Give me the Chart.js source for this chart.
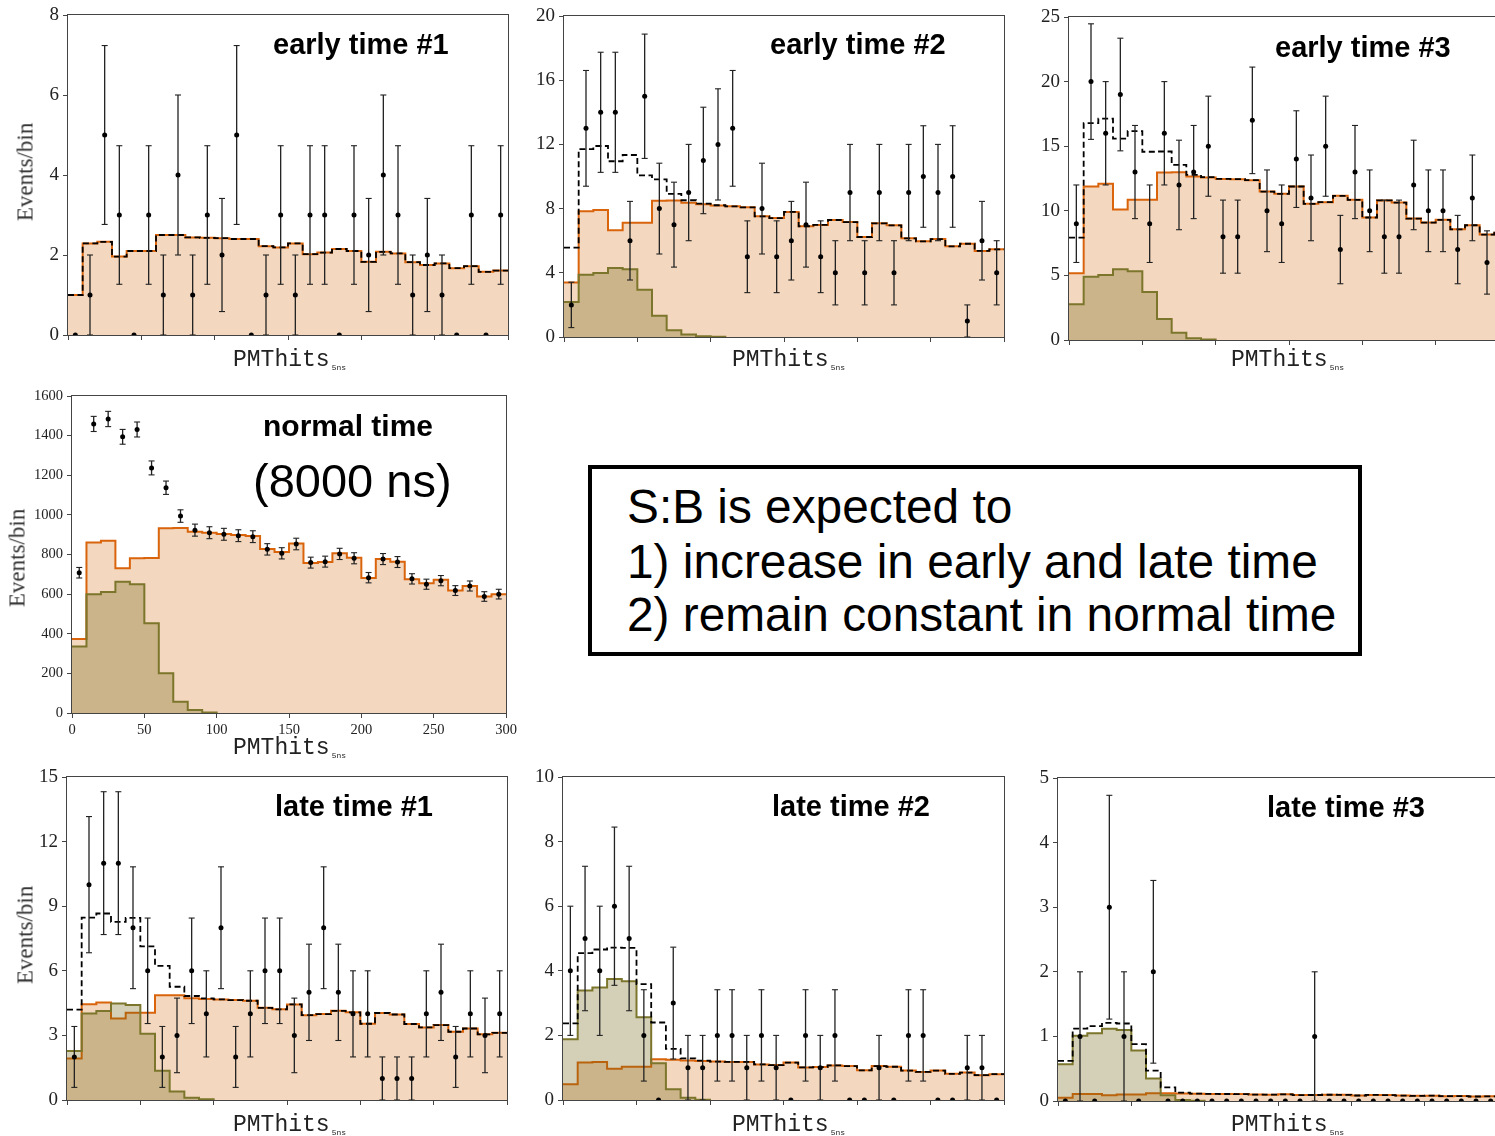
<!DOCTYPE html>
<html>
<head>
<meta charset="utf-8">
<script src="https://cdn.jsdelivr.net/npm/chart.js@4.4.1/dist/chart.umd.min.js"></script>
<style>
  html, body { margin: 0; padding: 0; width: 1495px; height: 1136px; overflow: hidden; background: #fff; }
  body { position: relative; }
  canvas { position: absolute; }
  .txt { position: absolute; white-space: nowrap; line-height: 1; color: #000; z-index: 5; }
  .title { font-family: "Liberation Sans", Arial, sans-serif; font-weight: bold; }
  .plain { font-family: "Liberation Sans", Arial, sans-serif; }
  .xl { font-family: "Liberation Mono", "DejaVu Sans Mono", monospace; font-size: 23px; color: #222; }
  .xl .s { font-size: 8px; position: relative; top: 4px; margin-left: 2px; }
  .yl { position: absolute; white-space: nowrap; line-height: 1; z-index: 5;
        font-family: "Liberation Serif", serif; font-size: 23px; color: #333;
        transform: translate(-50%, -50%) rotate(-90deg); }
  #note { position: absolute; left: 588px; top: 465px; width: 766px; height: 183px;
          border: 4px solid #000; z-index: 4; }
</style>
</head>
<body>
<div id="note"></div>
<script>
// Histogram binning on PMThits (5 ns window): 30 bins of width 10 from 0 to 300
const BIN_EDGES = [0,10,20,30,40,50,60,70,80,90,100,110,120,130,140,150,160,170,180,190,200,210,220,230,240,250,260,270,280,290,300];
const BIN_CENTERS = [5,15,25,35,45,55,65,75,85,95,105,115,125,135,145,155,165,175,185,195,205,215,225,235,245,255,265,275,285,295];
const X_TICKS = [0,50,100,150,200,250,300];

// early time #1
const E1_BKG  = [1.00,2.29,2.33,1.96,2.10,2.10,2.50,2.50,2.44,2.43,2.42,2.40,2.40,2.22,2.19,2.29,2.02,2.06,2.15,2.10,1.83,2.08,2.04,1.82,1.75,1.79,1.67,1.72,1.58,1.61];
const E1_SIG  = [0,0,0,0,0,0,0,0,0,0,0,0,0,0,0,0,0,0,0,0,0,0,0,0,0,0,0,0,0,0];
const E1_DATA = [0,1,5,3,0,3,1,4,1,3,2,5,0,1,3,1,3,3,0,3,2,4,3,1,2,1,0,3,0,3];

// early time #2
const E2_BKG  = [3.39,7.83,7.91,6.65,7.12,7.12,8.49,8.50,8.37,8.27,8.20,8.14,8.08,7.52,7.41,7.79,6.90,6.98,7.29,7.16,6.23,7.08,6.96,6.15,5.96,6.10,5.65,5.81,5.36,5.46];
const E2_SIG  = [2.18,3.88,3.99,4.30,4.22,2.95,1.33,0.42,0.15,0.04,0.01,0,0,0,0,0,0,0,0,0,0,0,0,0,0,0,0,0,0,0];
const E2_DATA = [2,13,14,14,6,15,8,7,9,11,12,13,5,8,5,6,7,5,4,9,4,9,4,9,10,9,10,1,6,4];

// early time #3
const E3_BKG  = [5.17,11.88,12.09,10.10,10.85,10.85,12.96,12.99,12.65,12.58,12.47,12.45,12.37,11.49,11.31,11.88,10.54,10.67,11.16,10.85,9.48,10.80,10.64,9.40,9.09,9.30,8.57,8.88,8.16,8.30];
const E3_SIG  = [2.76,4.90,5.04,5.48,5.32,3.72,1.63,0.57,0.13,0.03,0,0,0,0,0,0,0,0,0,0,0,0,0,0,0,0,0,0,0,0];
const E3_DATA = [9,20,16,19,13,9,16,12,13,15,8,8,17,10,9,14,11,15,7,13,10,8,8,12,10,10,7,11,6,8];

// normal time (8000 ns)
const N_BKG  = [373,860,870,730,781,782,932,934,915,910,903,898,893,828,813,855,757,762,806,784,682,777,764,675,655,673,618,641,588,600];
const N_SIG  = [336,599,611,663,650,453,201,57,15,3,0,0,0,0,0,0,0,0,0,0,0,0,0,0,0,0,0,0,0,0];
const N_DATA = [708,1459,1484,1394,1431,1237,1137,994,923,910,902,895,890,826,806,853,759,764,803,781,683,777,762,677,650,668,618,641,588,600];

// late time #1
const L1_BKG  = [1.93,4.45,4.53,3.79,4.05,4.05,4.87,4.87,4.72,4.69,4.67,4.64,4.61,4.28,4.21,4.44,3.94,3.99,4.14,4.07,3.54,4.04,3.97,3.53,3.37,3.48,3.17,3.32,3.05,3.12];
const L1_SIG  = [2.27,4.02,4.13,4.48,4.41,3.08,1.36,0.39,0.11,0.03,0,0,0,0,0,0,0,0,0,0,0,0,0,0,0,0,0,0,0,0];
const L1_DATA = [2,10,11,11,8,6,2,3,6,4,8,2,4,6,6,3,5,8,5,4,4,1,1,1,4,5,2,4,3,4];

// late time #2
const L2_BKG  = [0.49,1.16,1.18,0.97,1.03,1.03,1.26,1.25,1.22,1.21,1.19,1.18,1.18,1.10,1.08,1.16,1.01,1.02,1.07,1.05,0.92,1.05,1.03,0.91,0.87,0.91,0.81,0.85,0.77,0.80];
const L2_SIG  = [1.88,3.39,3.48,3.75,3.68,2.56,1.14,0.33,0.07,0.01,0,0,0,0,0,0,0,0,0,0,0,0,0,0,0,0,0,0,0,0];
const L2_DATA = [4,5,4,6,5,2,0,3,1,1,2,2,1,2,1,0,2,1,2,0,0,1,0,2,2,0,0,1,1,0];

// late time #3
const L3_BKG  = [0.050,0.110,0.110,0.090,0.100,0.100,0.120,0.120,0.115,0.112,0.110,0.108,0.107,0.100,0.098,0.104,0.092,0.093,0.097,0.095,0.085,0.094,0.092,0.084,0.080,0.083,0.074,0.077,0.070,0.072];
const L3_SIG  = [0.57,1.01,1.05,1.12,1.10,0.78,0.35,0.09,0.015,0.003,0,0,0,0,0,0,0,0,0,0,0,0,0,0,0,0,0,0,0,0];
const L3_DATA = [0,1,0,3,1,0,2,0,0,0,0,0,0,0,0,0,0,1,0,0,0,0,0,0,0,0,0,0,0,0];

const ORANGE_LINE = 'rgb(217,100,12)';
const ORANGE_FILL = 'rgba(210,100,5,0.26)';
const OLIVE_LINE  = 'rgb(124,118,44)';
const OLIVE_FILL  = 'rgba(112,98,15,0.30)';
const SERIF = "'Liberation Serif', 'DejaVu Serif', serif";

// step outline: one point per left bin edge, last value repeated at the right edge
function steps(vals) {
  return BIN_EDGES.map((x, i) => ({ x, y: vals[Math.min(i, vals.length - 1)] }));
}
function sumBins(a, b) { return a.map((v, i) => v + b[i]); }

// Poisson error bars: vertical segments split by gaps, plus caps
function errSegments(counts) {
  const out = [];
  counts.forEach((n, i) => {
    if (n > 0) {
      const e = Math.sqrt(n), x = BIN_CENTERS[i];
      out.push({ x, y: n - e }, { x, y: n + e }, { x, y: null });
    }
  });
  return out;
}
function errCaps(counts) {
  const out = [];
  counts.forEach((n, i) => {
    if (n > 0) {
      const e = Math.sqrt(n), x = BIN_CENTERS[i];
      out.push({ x, y: n - e }, { x, y: n + e });
    }
  });
  return out;
}

// hide the outline where a histogram sits flat on zero
const hideFlatZero = ctx => (ctx.p0.parsed.y === 0 && ctx.p1.parsed.y === 0) ? 'rgba(0,0,0,0)' : undefined;

const framePlugin = {
  id: 'frame',
  afterDatasetsDraw(chart) {
    const { ctx, chartArea: a } = chart;
    ctx.save();
    ctx.strokeStyle = '#444';
    ctx.lineWidth = 1;
    ctx.strokeRect(a.left - 0.5, a.top - 0.5, a.right - a.left + 1, a.bottom - a.top + 1);
    ctx.restore();
  }
};

const PAD = { l: 62, t: 16, r: 26, b: 40 };

function panel(spec) {
  const w = spec.rect.r - spec.rect.l, h = spec.rect.b - spec.rect.t;
  const cv = document.createElement('canvas');
  cv.width = w + PAD.l + PAD.r;
  cv.height = h + PAD.t + PAD.b;
  cv.style.left = (spec.rect.l - PAD.l) + 'px';
  cv.style.top = (spec.rect.t - PAD.t) + 'px';
  cv.style.width = cv.width + 'px';
  cv.style.height = cv.height + 'px';
  document.body.appendChild(cv);

  const clip = { left: 6, top: 6, right: 6, bottom: 0 };
  const datasets = [
    { type: 'line', data: spec.data.map((n, i) => ({ x: BIN_CENTERS[i], y: n })), showLine: false,
      pointStyle: 'circle', pointRadius: 2.5, pointBackgroundColor: '#000', pointBorderWidth: 0,
      order: 0, clip },
    { type: 'line', data: errCaps(spec.data), showLine: false, pointStyle: 'line', pointRadius: 3,
      pointBorderColor: '#222', pointBorderWidth: 1.1, order: 0, clip },
    { type: 'line', data: errSegments(spec.data), spanGaps: false, borderColor: '#222', borderWidth: 1.3,
      pointRadius: 0, order: 0, clip },
    { type: 'line', data: steps(spec.sig), stepped: true, borderColor: OLIVE_LINE, borderWidth: 2,
      backgroundColor: OLIVE_FILL, fill: 'origin', pointRadius: 0, order: 2,
      segment: { borderColor: hideFlatZero } },
    { type: 'line', data: steps(spec.bkg), stepped: true, borderColor: ORANGE_LINE, borderWidth: 2,
      backgroundColor: ORANGE_FILL, fill: 'origin', pointRadius: 0, order: 3 }
  ];
  if (spec.total) {
    datasets.push({ type: 'line', data: steps(sumBins(spec.bkg, spec.sig)), stepped: true,
      borderColor: '#000', borderWidth: 1.8, borderDash: [6, 3.5], fill: false, pointRadius: 0, order: 1 });
  }

  new Chart(cv, {
    type: 'line',
    data: { datasets },
    options: {
      responsive: false, animation: false, devicePixelRatio: 1, events: [],
      layout: { padding: { left: 0, top: PAD.t, right: PAD.r, bottom: 0 } },
      plugins: { legend: { display: false }, tooltip: { enabled: false } },
      scales: {
        x: {
          type: 'linear', min: 0, max: 300, offset: false,
          afterBuildTicks: s => { s.ticks = X_TICKS.map(v => ({ value: v })); },
          ticks: { display: spec.xLabels, autoSkip: false, maxRotation: 0, padding: 3,
                   color: '#222', font: { family: SERIF, size: 14.5 }, callback: v => String(v) },
          grid: { display: true, drawOnChartArea: false, drawTicks: true, tickLength: 5, color: '#444', lineWidth: 1 },
          border: { display: false },
          afterFit: s => { s.height = PAD.b; }
        },
        y: {
          type: 'linear', min: 0, max: spec.ymax,
          ticks: { stepSize: spec.ystep, padding: 4, color: '#222', font: { family: SERIF, size: spec.tickSize },
                   callback: v => String(v) },
          grid: { display: true, drawOnChartArea: false, drawTicks: true, tickLength: 5, color: '#444', lineWidth: 1 },
          border: { display: false },
          afterFit: s => { s.width = PAD.l; }
        }
      }
    },
    plugins: [framePlugin]
  });
}

// ---- text helpers (baseline-positioned) ----
function addText(html, cls, left, baseline, size, ascent) {
  const d = document.createElement('div');
  d.className = 'txt ' + cls;
  d.style.fontSize = size + 'px';
  d.style.left = left + 'px';
  d.style.top = (baseline - ascent * size) + 'px';
  d.innerHTML = html;
  document.body.appendChild(d);
}
function title(text, left, baseline, size, bold) {
  addText(text, bold ? 'title' : 'plain', left, baseline, size, 0.8465);
}
function xLabel(left, baseline) {
  addText('PMThits<span class="s">5ns</span>', 'xl', left, baseline, 23, 0.7665);
}
function yLabel(cx, cy) {
  const d = document.createElement('div');
  d.className = 'yl';
  d.style.left = cx + 'px';
  d.style.top = cy + 'px';
  d.textContent = 'Events/bin';
  document.body.appendChild(d);
}

panel({ rect: { l: 68, t: 15, r: 508, b: 335 }, bkg: E1_BKG, sig: E1_SIG, data: E1_DATA, total: true,
        ymax: 8, ystep: 2, tickSize: 19, xLabels: false });
panel({ rect: { l: 564, t: 16, r: 1004, b: 337 }, bkg: E2_BKG, sig: E2_SIG, data: E2_DATA, total: true,
        ymax: 20, ystep: 4, tickSize: 19, xLabels: false });
panel({ rect: { l: 1069, t: 17, r: 1509, b: 340 }, bkg: E3_BKG, sig: E3_SIG, data: E3_DATA, total: true,
        ymax: 25, ystep: 5, tickSize: 19, xLabels: false });
panel({ rect: { l: 72, t: 396, r: 506, b: 713 }, bkg: N_BKG, sig: N_SIG, data: N_DATA, total: false,
        ymax: 1600, ystep: 200, tickSize: 14.5, xLabels: true });
panel({ rect: { l: 67, t: 777, r: 507, b: 1100 }, bkg: L1_BKG, sig: L1_SIG, data: L1_DATA, total: true,
        ymax: 15, ystep: 3, tickSize: 19, xLabels: false });
panel({ rect: { l: 563, t: 777, r: 1004, b: 1100 }, bkg: L2_BKG, sig: L2_SIG, data: L2_DATA, total: true,
        ymax: 10, ystep: 2, tickSize: 19, xLabels: false });
panel({ rect: { l: 1058, t: 778, r: 1498, b: 1101 }, bkg: L3_BKG, sig: L3_SIG, data: L3_DATA, total: true,
        ymax: 5, ystep: 1, tickSize: 19, xLabels: false });

title('early time #1', 273, 55, 29, true);
title('early time #2', 770, 55, 29, true);
title('early time #3', 1275, 58, 29, true);
title('normal time', 263, 436, 30, true);
title('(8000 ns)', 253, 497, 47, false);
title('late time #1', 275, 817, 29, true);
title('late time #2', 772, 817, 29, true);
title('late time #3', 1267, 818, 29, true);

xLabel(233, 367); xLabel(732, 367); xLabel(1231, 367);
xLabel(233, 755);
xLabel(233, 1132); xLabel(732, 1132); xLabel(1231, 1132);

yLabel(25, 172); yLabel(17, 558); yLabel(25, 935);

title('S:B is expected to', 627, 523, 47.8, false);
title('1) increase in early and late time', 627, 578, 47.8, false);
title('2) remain constant in normal time', 627, 631, 47.8, false);
</script>
</body>
</html>
